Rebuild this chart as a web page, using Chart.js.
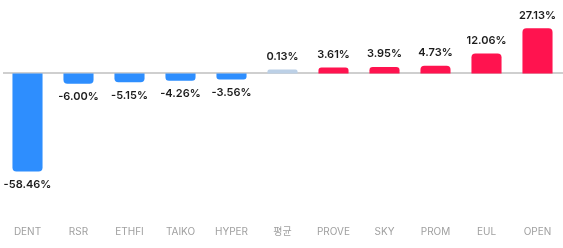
<!DOCTYPE html>
<html>
<head>
<meta charset="utf-8">
<script src="https://cdn.jsdelivr.net/npm/chart.js@4/dist/chart.umd.min.js"></script>
<style>
  html, body { margin: 0; padding: 0; background: #fff; }
  #wrap { width: 563px; height: 248px; }
</style>
</head>
<body>
<div id="wrap"><canvas id="returnChart"></canvas></div>
<script>
// coin symbols, '평균' is the average bar
const labels = ['DENT', 'RSR', 'ETHFI', 'TAIKO', 'HYPER', '평균', 'PROVE', 'SKY', 'PROM', 'EUL', 'OPEN'];
const returns = [-58.46, -6.00, -5.15, -4.26, -3.56, 0.13, 3.61, 3.95, 4.73, 12.06, 27.13];
const avgIndex = 5;

const BLUE = '#2e8efe';
const RED = '#ff134f';
const AVG = '#bcd0e6';
const FONT = "Inter, 'Noto Sans CJK KR', sans-serif";

// value labels above / below each bar
const valueLabels = {
    id: 'valueLabels',
    afterDatasetsDraw(chart) {
        const ctx = chart.ctx;
        const meta = chart.getDatasetMeta(0);
        ctx.save();
        ctx.font = "600 11px " + FONT;
        ctx.fillStyle = '#1c1c1c';
        ctx.textAlign = 'center';
        ctx.textBaseline = 'middle';
        meta.data.forEach((bar, i) => {
            const v = returns[i];
            const y = v >= 0 ? bar.y - 13 : bar.y + 13;
            ctx.fillText(v.toFixed(2) + '%', bar.x, y);
        });
        ctx.restore();
    }
};

// thin baseline at zero
const zeroLine = {
    id: 'zeroLine',
    beforeDatasetsDraw(chart) {
        const { ctx, chartArea, scales } = chart;
        const y0 = scales.y.getPixelForValue(0);
        ctx.save();
        ctx.strokeStyle = '#cfcfcf';
        ctx.lineWidth = 2;
        ctx.beginPath();
        ctx.moveTo(chartArea.left + 1, y0 - 0.5);
        ctx.lineTo(chartArea.right, y0 - 0.5);
        ctx.stroke();
        ctx.restore();
    }
};

new Chart(document.getElementById('returnChart'), {
    type: 'bar',
    data: {
        labels: labels,
        datasets: [{
            data: returns,
            backgroundColor: returns.map((v, i) => i === avgIndex ? AVG : (v < 0 ? BLUE : RED)),
            borderRadius: 4,
            borderSkipped: 'start',
            barPercentage: 0.59,
            categoryPercentage: 1,
            minBarLength: 4
        }]
    },
    options: {
        responsive: true,
        maintainAspectRatio: false,
        animation: false,
        layout: { padding: { left: 2, right: 0, top: 0, bottom: 5 } },
        scales: {
            x: {
                grid: { display: false },
                border: { display: false },
                ticks: { color: '#a0a0a0', font: { family: FONT, size: 10 }, padding: 5, maxRotation: 0, autoSkip: false }
            },
            y: { display: false, min: -83.3, max: 44 }
        },
        plugins: { legend: { display: false }, tooltip: { enabled: false } }
    },
    plugins: [zeroLine, valueLabels]
});
</script>
</body>
</html>
